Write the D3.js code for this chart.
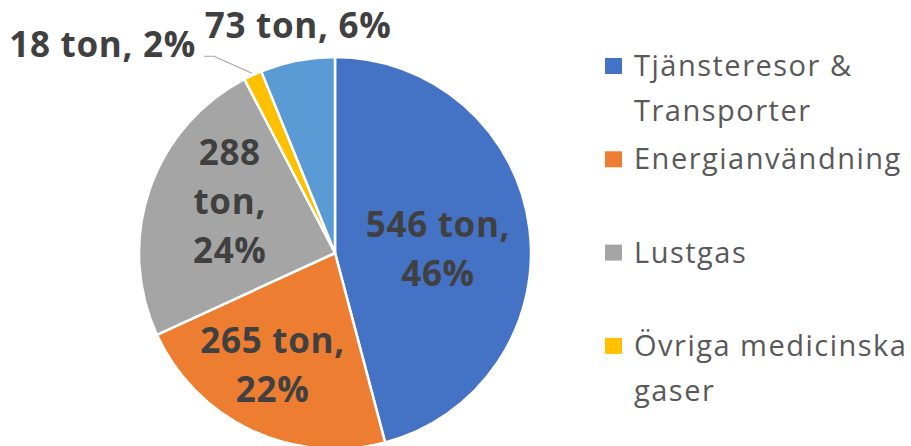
<!DOCTYPE html>
<html>
<head>
<meta charset="utf-8">
<script src="https://cdn.jsdelivr.net/npm/d3@7"></script>
<style>
    body { margin: 0; background: #fff; }
    svg { display: block; }
    .slice-label { font-family: "Open Sans", "Noto Sans", sans-serif; font-weight: bold; fill: #404040; letter-spacing: 0.7px; }
    .legend-text { font-family: "Open Sans", "Noto Sans", sans-serif; fill: #595959; letter-spacing: 1.5px; }
</style>
</head>
<body>
<div id="chart"></div>
<script>
// data
let categories = ["Tjänsteresor & Transporter", "Energianvändning", "Lustgas", "Övriga medicinska gaser", "Övrigt"];
let tons = [546, 265, 288, 18, 73];
let percents = [46, 22, 24, 2, 6];
let colors = ["#4472C4", "#ED7D31", "#A5A5A5", "#FFC000", "#5B9BD5"];
// legend lines (the chart area only has room for the first four entries)
let legendLines = [["Tjänsteresor &", "Transporter"], ["Energianvändning"], ["Lustgas"], ["Övriga medicinska", "gaser"]];

let width = 911, height = 446;
let cx = 335, cy = 253, radius = 196;

let svg = d3.select("#chart").append("svg")
    .attr("width", width)
    .attr("height", height);

let pieData = d3.pie().sort(null).value(d => d)(tons);

let arc = d3.arc().innerRadius(0).outerRadius(radius);

let g = svg.append("g").attr("transform", `translate(${cx}, ${cy})`);

g.selectAll("path.slice")
    .data(pieData)
    .enter()
    .append("path")
    .attr("class", "slice")
    .attr("d", arc)
    .attr("fill", (d, i) => colors[i])
    .attr("stroke", "#fff")
    .attr("stroke-width", 2.5)
    .attr("stroke-linejoin", "round");

// polar helper: angle measured clockwise from 12 o'clock
function polar(angle, r) {
    return [Math.sin(angle) * r, -Math.cos(angle) * r];
}

let fontSize = 35, lineH = 49;

// inside labels, line breaks as excel wrapped them
let insideLines = [
    [`${tons[0]} ton,`, `${percents[0]}%`],
    [`${tons[1]} ton,`, `${percents[1]}%`],
    [`${tons[2]}`, "ton,", `${percents[2]}%`]
];
// excel doesn't put labels exactly on the centroid, so nudge a bit
let insideFactor = [0.53, 0.65, 0.6];
let insideNudge = [[0, 9], [-8, -3], [6, -14]];

insideLines.forEach((lines, i) => {
    let d = pieData[i];
    let mid = (d.startAngle + d.endAngle) / 2;
    let p = polar(mid, radius * insideFactor[i]);
    let x = p[0] + insideNudge[i][0];
    let y = p[1] + insideNudge[i][1];
    let t = g.append("text")
        .attr("class", "slice-label")
        .attr("text-anchor", "middle")
        .style("font-size", fontSize + "px");
    lines.forEach((line, j) => {
        t.append("tspan")
            .attr("x", x)
            .attr("y", y + (j - (lines.length - 1) / 2) * lineH + fontSize * 0.36)
            .text(line);
    });
});

// outside label for the light blue slice
{
    let d = pieData[4];
    let mid = (d.startAngle + d.endAngle) / 2;
    let p = polar(mid, radius * 1.17);
    g.append("text")
        .attr("class", "slice-label")
        .attr("text-anchor", "middle")
        .style("font-size", fontSize + "px")
        .attr("x", p[0] + 7)
        .attr("y", p[1] - 3 + fontSize * 0.36)
        .text(`${tons[4]} ton, ${percents[4]}%`);
}

// small yellow slice: label moved out with a leader line
{
    let d = pieData[3];
    let mid = (d.startAngle + d.endAngle) / 2;
    let edge = polar(mid, radius + 2);
    let elbow = [edge[0] - 38, edge[1] - 17];
    let end = [elbow[0] - 10, elbow[1]];
    g.append("polyline")
        .attr("points", [edge, elbow, end].map(p => p.join(",")).join(" "))
        .attr("fill", "none")
        .attr("stroke", "#A6A6A6")
        .attr("stroke-width", 1.2);
    g.append("text")
        .attr("class", "slice-label")
        .attr("text-anchor", "end")
        .style("font-size", fontSize + "px")
        .attr("x", end[0] - 8)
        .attr("y", end[1] + 1)
        .text(`${tons[3]} ton, ${percents[3]}%`);
}

// legend
let legendX = 605, legendTop = 66, legendStep = 93.3, legendFont = 29, legendLineH = 45;

let legend = svg.append("g").attr("class", "legend");

legendLines.forEach((lines, i) => {
    let y = legendTop + i * legendStep;
    legend.append("rect")
        .attr("x", legendX)
        .attr("y", y - 8)
        .attr("width", 17)
        .attr("height", 16)
        .attr("fill", colors[i]);
    let t = legend.append("text")
        .attr("class", "legend-text")
        .style("font-size", legendFont + "px");
    lines.forEach((line, j) => {
        t.append("tspan")
            .attr("x", legendX + 29)
            .attr("y", y + 10 + j * legendLineH)
            .text(line);
    });
});
</script>
</body>
</html>
